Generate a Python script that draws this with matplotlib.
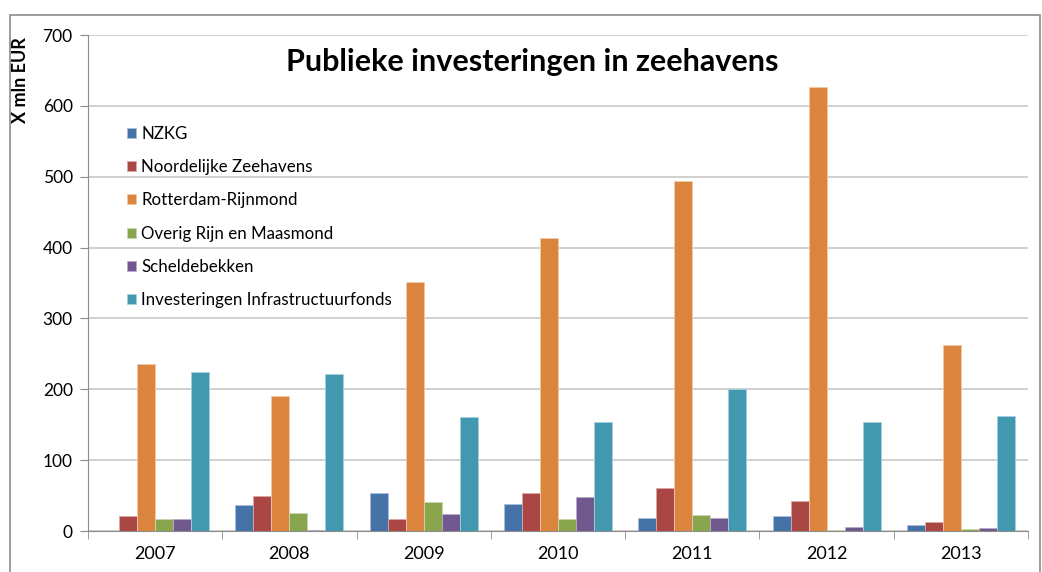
import matplotlib
matplotlib.use("Agg")
import matplotlib.pyplot as plt
import numpy as np
from matplotlib.patches import Rectangle

years = ["2007", "2008", "2009", "2010", "2011", "2012", "2013"]
series_names = ["NZKG", "Noordelijke Zeehavens", "Rotterdam-Rijnmond",
                "Overig Rijn en Maasmond", "Scheldebekken",
                "Investeringen Infrastructuurfonds"]
nzkg = [0, 37, 53, 38, 19, 21, 8]
noordelijk = [21, 49, 17, 54, 60, 42, 13]
rotterdam = [235, 190, 351, 413, 494, 626, 262]
overig = [17, 25, 41, 17, 23, 2, 3]
schelde = [17, 2, 24, 48, 19, 5, 4]
infra = [224, 221, 161, 154, 201, 154, 162]
colors = ["#4572A7", "#AA4643", "#DB843D", "#89A54E", "#71588F", "#4198AF"]
edge_colors = ["#a8bdd8", "#d8a9a7", "#f3c9a6", "#c8d9ad", "#b9acc9", "#a6d0dc"]

plt.rcParams['font.family'] = ['Lato', 'DejaVu Sans']

fig = plt.figure(figsize=(10.42, 5.72), dpi=100)
ax = fig.add_axes([88/1042, 1-531/572, (1028-88)/1042, (531-35)/572])

data = [nzkg, noordelijk, rotterdam, overig, schelde, infra]
x = np.arange(len(years))
w = 0.134
for i, (vals, name) in enumerate(zip(data, series_names)):
    ax.bar(x + (i - 2.5) * w, vals, width=w, color=colors[i],
           edgecolor=edge_colors[i], linewidth=0.6, label=name, zorder=3)

ax.set_xlim(-0.5, len(years) - 0.5)
ax.set_ylim(0, 700)
ax.set_yticks(np.arange(0, 701, 100))
ax.yaxis.grid(True, color="#c3c3c3", linewidth=1.1, zorder=0)
ax.set_axisbelow(True)
for s in ["top", "right"]:
    ax.spines[s].set_visible(False)
ax.spines["left"].set_color("#8c8c8c")
ax.spines["bottom"].set_color("#8c8c8c")
ax.tick_params(axis="y", length=6, color="#8c8c8c", labelsize=12.5, pad=5, direction="out")
ax.set_xticks(x)
ax.set_xticklabels(years, fontsize=13)
ax.tick_params(axis="x", which="major", length=0, pad=11)
ax.set_xticks(np.arange(-0.5, len(years), 1), minor=True)
ax.tick_params(axis="x", which="minor", length=6, color="#8c8c8c", direction="out")

ax.text((532-88)/940, 1-(62-35)/496, "Publieke investeringen in zeehavens", transform=ax.transAxes,
        ha="center", va="center", fontsize=22, fontweight="bold")

fig.text(21/1042, 1-80/572, "X mln EUR", rotation=90, ha="center", va="center",
         fontsize=13, fontweight="bold")

leg = ax.legend(loc="upper left", bbox_to_anchor=((120-88)/940, 1-(119-35)/496), frameon=False,
                fontsize=12.2, handlelength=0.55, handleheight=0.55,
                handletextpad=0.3, labelspacing=1.02, borderaxespad=0)

fig.patches.append(Rectangle((10/1042, -0.05), (1040-10)/1042, 1.05 - 15/572,
                             transform=fig.transFigure, fill=False,
                             edgecolor="#8c8c8c", linewidth=1.2))

fig.savefig("out.png", dpi=100)
